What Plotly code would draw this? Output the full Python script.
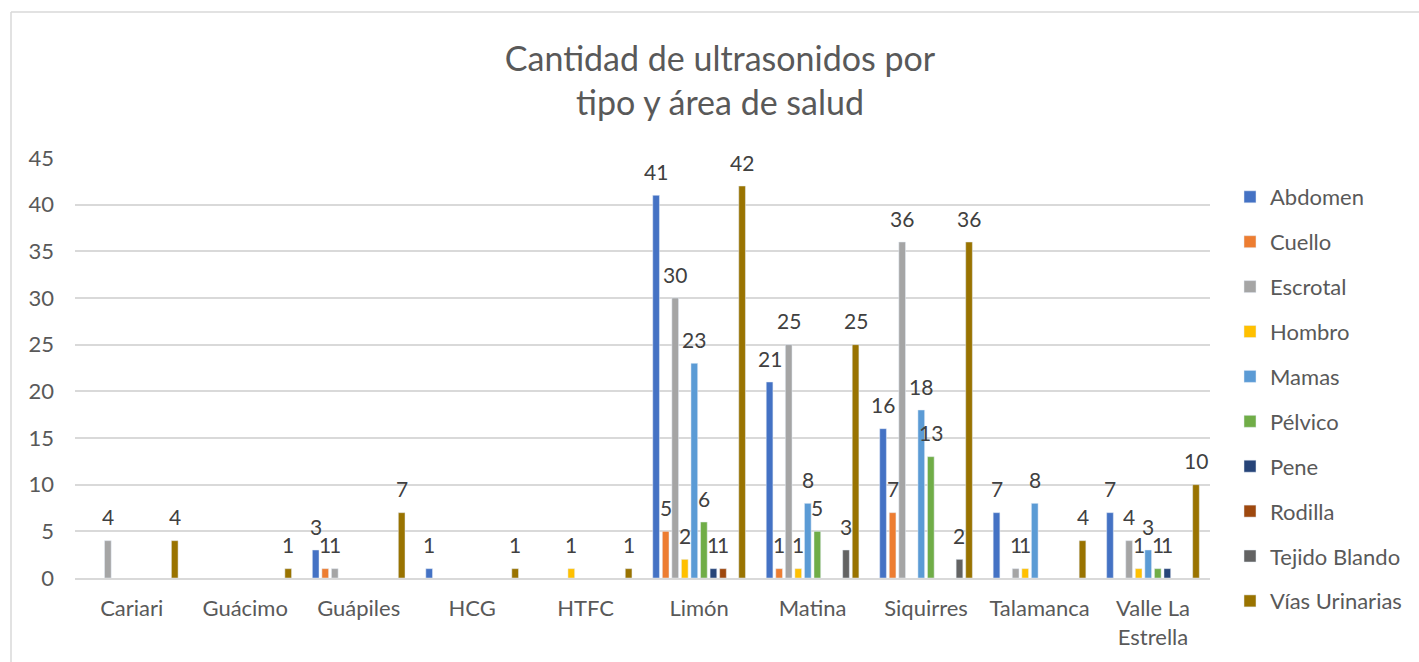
import plotly.graph_objects as go

categories = ["Cariari", "Guácimo", "Guápiles", "HCG", "HTFC", "Limón",
              "Matina", "Siquirres", "Talamanca", "Valle La<br>Estrella"]

abdomen = [None, None, 3, 1, None, 41, 21, 16, 7, 7]
cuello = [None, None, 1, None, None, 5, 1, 7, None, None]
escrotal = [4, None, 1, None, None, 30, 25, 36, 1, 4]
hombro = [None, None, None, None, 1, 2, 1, None, 1, 1]
mamas = [None, None, None, None, None, 23, 8, 18, 8, 3]
pelvico = [None, None, None, None, None, 6, 5, 13, None, 1]
pene = [None, None, None, None, None, 1, None, None, None, 1]
rodilla = [None, None, None, None, None, 1, None, None, None, None]
tejido_blando = [None, None, None, None, None, None, 3, 2, None, None]
vias_urinarias = [4, 1, 7, 1, 1, 42, 25, 36, 4, 10]

series = [
    ("Abdomen", abdomen, "#4472C4"),
    ("Cuello", cuello, "#ED7D31"),
    ("Escrotal", escrotal, "#A5A5A5"),
    ("Hombro", hombro, "#FFC000"),
    ("Mamas", mamas, "#5B9BD5"),
    ("Pélvico", pelvico, "#70AD47"),
    ("Pene", pene, "#264478"),
    ("Rodilla", rodilla, "#9E480E"),
    ("Tejido Blando", tejido_blando, "#636363"),
    ("Vías Urinarias", vias_urinarias, "#997300"),
]

FONT = "Lato"
GRAY = "#595959"

W, H = 1419, 662
L, R, T, B = 75, 1210, 158, 578
BARGAP, GROUPGAP = 0.158, 0.30

fig = go.Figure()
for name, vals, color in series:
    fig.add_trace(go.Bar(
        name=name, x=categories, y=vals,
        marker=dict(color=color),
        legendgroup=name,
    ))

# data labels: centred on each bar, a fixed distance above its top
n = len(series)
cat_px = (R - L) / len(categories)
slot_px = cat_px * (1 - BARGAP) / n
annotations = []
for i, (name, vals, color) in enumerate(series):
    dx = (i - (n - 1) / 2) * slot_px
    for c, v in zip(categories, vals):
        if v is None:
            continue
        annotations.append(dict(
            x=c, y=v, xref="x", yref="y", text=str(v), showarrow=False,
            xshift=dx, yshift=24, xanchor="center", yanchor="middle",
            font=dict(family=FONT, size=21, color="#404040"),
        ))

fig.update_layout(
    width=W, height=H,
    barmode="group", bargap=BARGAP, bargroupgap=GROUPGAP,
    paper_bgcolor="white", plot_bgcolor="white",
    margin=dict(l=L, r=W - R, t=T, b=H - B),
    font=dict(family=FONT, color=GRAY),
    title=dict(
        text="Cantidad de ultrasonidos por<br>tipo y área de salud",
        x=720 / W, xanchor="center", xref="container",
        y=1 - 71 / H, yanchor="middle", yref="container",
        font=dict(family=FONT, size=34, color=GRAY),
    ),
    legend=dict(
        xref="container", yref="container",
        x=1230 / W, xanchor="left",
        y=1 - 176 / H, yanchor="top",
        font=dict(family=FONT, size=22, color=GRAY),
        tracegroupgap=13.3,
        maxheight=620,
        bgcolor="rgba(0,0,0,0)",
    ),
    annotations=annotations,
    showlegend=True,
)

fig.update_yaxes(
    range=[0, 45], dtick=5, showgrid=True, gridcolor="#D9D9D9", gridwidth=1.5,
    zeroline=False, showline=False, ticks="",
    tickfont=dict(family=FONT, size=22, color=GRAY),
    ticklabelstandoff=20,
)
fig.update_xaxes(
    showline=True, linecolor="#D9D9D9", linewidth=1.5, ticks="",
    tickfont=dict(family=FONT, size=22, color=GRAY),
    ticklabelstandoff=10,
)

pw, ph = R - L, B - T
# outer chart border
fig.add_shape(type="line", xref="paper", yref="paper",
              x0=(11 - L) / pw, x1=(W + 5 - L) / pw,
              y0=(B - 12) / ph, y1=(B - 12) / ph,
              line=dict(color="#D9D9D9", width=1.5))
fig.add_shape(type="line", xref="paper", yref="paper",
              x0=(11 - L) / pw, x1=(11 - L) / pw,
              y0=(B - 12) / ph, y1=(B - H - 5) / ph,
              line=dict(color="#D9D9D9", width=1.5))

fig.write_html("out.html", config={"displayModeBar": False},
               post_script="document.body.style.margin='0';document.body.style.overflow='hidden';")
